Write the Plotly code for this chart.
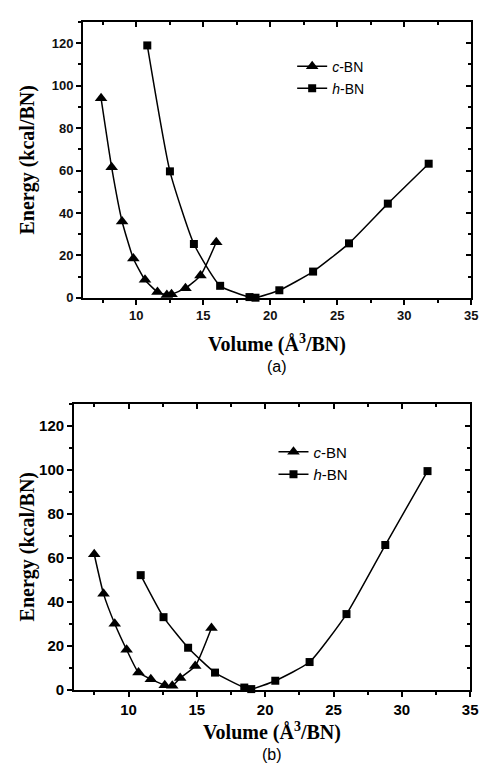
import plotly.graph_objects as go

# ---- data ----
vol_c_a = [7.37, 8.16, 8.94, 9.78, 10.65, 11.58, 12.28, 12.63, 13.67, 14.79, 15.97]
e_c_a = [94.0, 61.5, 36.0, 18.6, 8.5, 2.8, 1.4, 1.7, 4.6, 10.5, 26.2]
vol_h_a = [10.82, 12.51, 14.30, 16.26, 18.45, 18.90, 20.68, 23.20, 25.88, 28.78, 31.83]
e_h_a = [118.9, 59.6, 25.4, 5.7, 0.4, 0.1, 3.6, 12.4, 25.7, 44.4, 63.2]

vol_c_b = [7.49, 8.17, 8.99, 9.86, 10.73, 11.63, 12.65, 13.20, 13.78, 14.88, 16.07]
e_c_b = [61.6, 43.6, 30.0, 18.2, 7.8, 4.8, 2.1, 1.8, 5.3, 10.8, 28.1]
vol_h_b = [10.89, 12.56, 14.36, 16.33, 18.47, 18.98, 20.74, 23.25, 25.95, 28.79, 31.88]
e_h_b = [52.1, 33.0, 19.1, 7.8, 1.0, 0.3, 4.1, 12.6, 34.4, 65.8, 99.4]

series_names = ["<i>c</i>-BN", "<i>h</i>-BN"]
panel_labels = ["(a)", "(b)"]
x_title = "Volume (Å<sup>3</sup>/BN)"
y_title = "Energy (kcal/BN)"

# figure slightly smaller than the window so the page never overflows
W, H = 479, 761

def px_x(v):
    return v / W

def px_y(v):
    return (H - v) / H

fig = go.Figure()

def add_series(x, y, name, symbol, size, xa, ya, legend):
    fig.add_trace(go.Scatter(
        x=x, y=y, name=name, mode="lines+markers",
        line=dict(color="black", width=1.5, shape="spline", smoothing=0.5),
        marker=dict(symbol=symbol, size=size, color="black"),
        xaxis=xa, yaxis=ya, legend=legend, legendgroup=name + legend,
        cliponaxis=False,
    ))

add_series(vol_c_a, e_c_a, series_names[0], "triangle-up", 11, "x", "y", "legend")
add_series(vol_h_a, e_h_a, series_names[1], "square", 8, "x", "y", "legend")
add_series(vol_c_b, e_c_b, series_names[0], "triangle-up", 11, "x2", "y2", "legend2")
add_series(vol_h_b, e_h_b, series_names[1], "square", 8, "x2", "y2", "legend2")

# plot areas in pixels (left, right, top, bottom)
areaA = (76, 471, 14, 293)
areaB = (67, 470, 400, 689)

def dom(area):
    l, r, t, b = area
    return [px_x(l), px_x(r)], [px_y(b), px_y(t)]

xdA, ydA = dom(areaA)
xdB, ydB = dom(areaB)

tickfontA = dict(family="Liberation Sans", size=13, color="#111111", weight="bold")
tickfontB = dict(family="Liberation Sans", size=15, color="black", weight="bold")

XR = [6, 35]
YR = [0, 130]

def xax(domain, anchor, tf):
    return dict(domain=domain, anchor=anchor, range=XR, tick0=10, dtick=5,
                ticks="outside", ticklen=5, tickwidth=1.5, tickcolor="black",
                showline=True, linewidth=1.5, linecolor="black",
                showgrid=False, zeroline=False, tickfont=tf, ticklabeloverflow="allow",
                minor=dict(dtick=2.5, tick0=10, ticks="outside", ticklen=3,
                           tickwidth=1.5, tickcolor="black", showgrid=False))

def yax(domain, anchor, tf):
    return dict(domain=domain, anchor=anchor, range=YR, tick0=0, dtick=20,
                ticks="outside", ticklen=5, tickwidth=1.5, tickcolor="black",
                showline=True, linewidth=1.5, linecolor="black",
                showgrid=False, zeroline=False, tickfont=tf,
                minor=dict(dtick=10, tick0=0, ticks="outside", ticklen=3,
                           tickwidth=1.5, tickcolor="black", showgrid=False))

def xtop(anchor, over):
    return dict(anchor=anchor, overlaying=over, side="top",
                range=XR, tick0=10, dtick=5, ticks="inside", ticklen=5,
                tickwidth=1.5, tickcolor="black", showticklabels=False,
                showgrid=False, zeroline=False, showline=True, linewidth=1.5,
                linecolor="black",
                minor=dict(dtick=2.5, tick0=10, ticks="inside", ticklen=3,
                           tickwidth=1.5, tickcolor="black", showgrid=False))

def yright(anchor, over):
    return dict(anchor=anchor, overlaying=over, side="right",
                range=YR, tick0=0, dtick=20, ticks="inside", ticklen=5,
                tickwidth=1.5, tickcolor="black", showticklabels=False,
                showgrid=False, zeroline=False, showline=True, linewidth=1.5,
                linecolor="black",
                minor=dict(dtick=10, tick0=0, ticks="inside", ticklen=3,
                           tickwidth=1.5, tickcolor="black", showgrid=False))

# invisible helper traces so the top / right frame axes render
for xa, ya in (("x3", "y"), ("x", "y3"), ("x4", "y2"), ("x2", "y4")):
    fig.add_trace(go.Scatter(x=[XR[0]], y=[YR[0]], xaxis=xa, yaxis=ya, mode="markers",
                             marker=dict(opacity=0), showlegend=False, hoverinfo="skip"))

title_font = dict(family="Liberation Serif", size=20, color="black")
label_font = dict(family="Liberation Sans", size=16, color="black")

annotations = []
for area, lab, t_dy, lab_dy in ((areaA, panel_labels[0], 46, 69), (areaB, panel_labels[1], 42, 65)):
    l, r, t, b = area
    cx = px_x((l + r) / 2)
    annotations.append(dict(text="<b>" + x_title + "</b>", x=cx, y=px_y(b + t_dy),
                            xref="paper", yref="paper", showarrow=False,
                            font=title_font, xanchor="center", yanchor="middle"))
    annotations.append(dict(text=lab, x=cx, y=px_y(b + lab_dy),
                            xref="paper", yref="paper", showarrow=False,
                            font=label_font, xanchor="center", yanchor="middle"))
    annotations.append(dict(text="<b>" + y_title + "</b>", x=px_x(20), y=px_y((t + b) / 2),
                            xref="paper", yref="paper", showarrow=False, textangle=-90,
                            font=title_font, xanchor="center", yanchor="middle"))

legfont = dict(family="Liberation Sans", size=14, color="black")

fig.update_layout(
    width=W, height=H,
    margin=dict(l=0, r=0, t=0, b=0),
    paper_bgcolor="white", plot_bgcolor="white",
    xaxis=xax(xdA, "y", tickfontA), yaxis=yax(ydA, "x", tickfontA),
    xaxis2=xax(xdB, "y2", tickfontB), yaxis2=yax(ydB, "x2", tickfontB),
    xaxis3=xtop("y", "x"), yaxis3=yright("x", "y"),
    xaxis4=xtop("y2", "x2"), yaxis4=yright("x2", "y2"),
    legend=dict(x=px_x(289), y=px_y(43), xanchor="left", yanchor="top",
                bgcolor="rgba(0,0,0,0)", font=legfont, tracegroupgap=1),
    legend2=dict(x=px_x(270), y=px_y(432), xanchor="left", yanchor="top",
                 bgcolor="rgba(0,0,0,0)", font=dict(legfont, size=15), tracegroupgap=0),
    annotations=annotations,
    showlegend=True,
)

fig.write_html("out.html")
